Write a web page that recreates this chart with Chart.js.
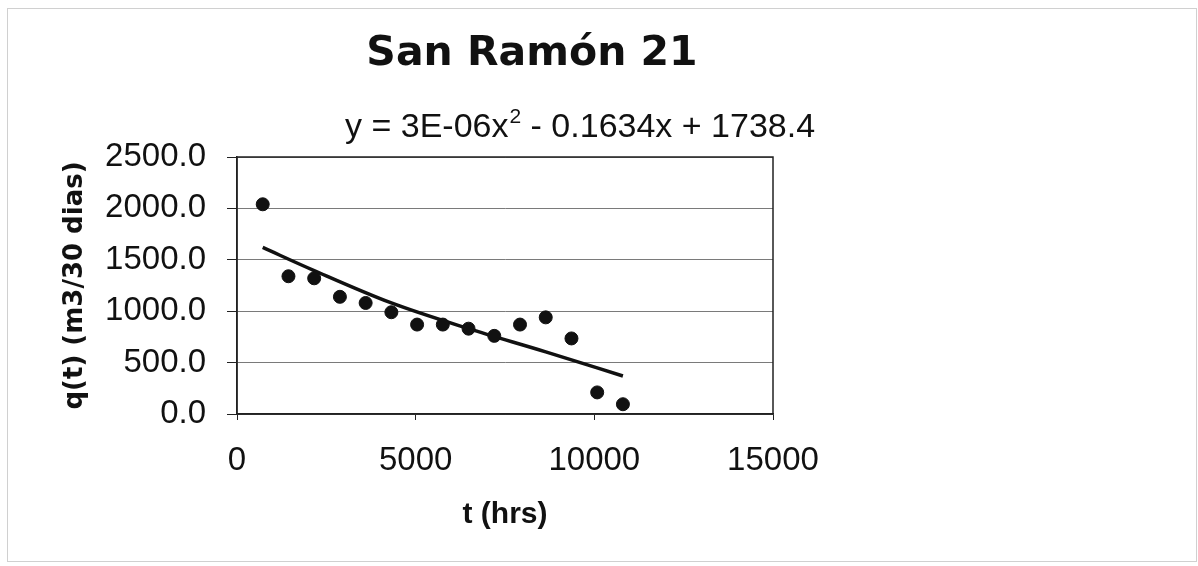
<!DOCTYPE html>
<html>
<head>
<meta charset="utf-8">
<script src="https://cdn.jsdelivr.net/npm/chart.js@4"></script>
<style>
    html, body { margin: 0; padding: 0; background: #fff; }
    #wrap { position: absolute; left: 0; top: 0; width: 1198px; height: 566px; }
</style>
</head>
<body>
<div id="wrap"><canvas id="chart"></canvas></div>
<script>
// monthly production, San Ramón 21
const timeHrs = [720, 1440, 2160, 2880, 3600, 4320, 5040, 5760, 6480, 7200, 7920, 8640, 9360, 10080, 10800];
const rateValues = [2040, 1340, 1320, 1140, 1080, 990, 870, 870, 830, 760, 870, 940, 735, 210, 95];

// polynomial trend line as it appears on the picture
const trendHrs = [720, 2160, 4320, 6480, 8640, 10800];
const trendValues = [1620, 1395, 1080, 830, 605, 370];

const yTicks = [0, 500, 1000, 1500, 2000, 2500];
const xTicks = [0, 5000, 10000, 15000];

const chartTitle = "San Ramón 21";
const equationParts = ["y = 3E-06x", "2", " - 0.1634x + 1738.4"];

const pointsData = timeHrs.map((t, i) => ({ x: t, y: rateValues[i] }));
const trendData = trendHrs.map((t, i) => ({ x: t, y: trendValues[i] }));

const frame = {
    id: "frame",
    afterDraw(chart) {
        const ctx = chart.ctx;
        const a = chart.chartArea;
        ctx.save();
        // plot box
        ctx.strokeStyle = "#222";
        ctx.lineWidth = 1.5;
        ctx.strokeRect(a.left, a.top, a.right - a.left, a.bottom - a.top);
        // outer chart border
        ctx.strokeStyle = "#d0d0d0";
        ctx.lineWidth = 1;
        ctx.strokeRect(7.5, 8.5, 1189, 553);

        // title
        ctx.fillStyle = "#111";
        ctx.font = "bold 41px 'DejaVu Sans'";
        ctx.textAlign = "center";
        ctx.textBaseline = "alphabetic";
        ctx.fillText(chartTitle, 532, 65);

        // trend equation with superscript
        ctx.textAlign = "left";
        ctx.font = "34px 'Liberation Sans'";
        let x = 345;
        const base = 137;
        ctx.fillText(equationParts[0], x, base);
        x += ctx.measureText(equationParts[0]).width;
        ctx.font = "21px 'Liberation Sans'";
        ctx.fillText(equationParts[1], x + 1, base - 14);
        x += ctx.measureText(equationParts[1]).width + 1;
        ctx.font = "34px 'Liberation Sans'";
        ctx.fillText(equationParts[2], x, base);
        ctx.restore();
    }
};

const chart = new Chart(document.getElementById("chart"), {
    type: "scatter",
    data: {
        datasets: [
            {
                label: "q(t)",
                data: pointsData,
                backgroundColor: "#111",
                borderColor: "#111",
                pointRadius: 6.5,
                pointHoverRadius: 6.5,
                order: 1
            },
            {
                label: "trend",
                type: "line",
                data: trendData,
                borderColor: "#111",
                borderWidth: 3.5,
                pointRadius: 0,
                fill: false,
                cubicInterpolationMode: "monotone",
                order: 2
            }
        ]
    },
    options: {
        responsive: true,
        maintainAspectRatio: false,
        animation: false,
        events: [],
        layout: { padding: { left: 0, top: 157, right: 425, bottom: 22 } },
        plugins: {
            legend: { display: false },
            title: { display: false },
            tooltip: { enabled: false }
        },
        scales: {
            x: {
                type: "linear",
                min: 0,
                max: 15000,
                afterBuildTicks: (scale) => { scale.ticks = xTicks.map(v => ({ value: v })); },
                afterFit: (scale) => { scale.height = 130; },
                border: { display: true, color: "#222", width: 1.5 },
                grid: { drawOnChartArea: false, drawTicks: true, tickLength: 6, tickColor: "#222" },
                ticks: {
                    padding: 21,
                    color: "#111",
                    font: { family: "'Liberation Sans'", size: 33 },
                    callback: (v) => v.toString()
                },
                title: {
                    display: true,
                    text: "t (hrs)",
                    color: "#111",
                    font: { family: "'Liberation Sans'", size: 30, weight: "bold" },
                    padding: { top: 0, bottom: 11 }
                }
            },
            y: {
                type: "linear",
                min: 0,
                max: 2500,
                afterBuildTicks: (scale) => { scale.ticks = yTicks.map(v => ({ value: v })); },
                afterFit: (scale) => { scale.width = 237; },
                border: { display: true, color: "#222", width: 1.5 },
                grid: { color: "#7a7a7a", lineWidth: 1, drawTicks: true, tickLength: 10, tickColor: "#222" },
                ticks: {
                    padding: 21,
                    color: "#111",
                    font: { family: "'Liberation Sans'", size: 33 },
                    callback: (v) => v.toFixed(1)
                },
                title: {
                    display: true,
                    text: "q(t) (m3/30 dias)",
                    color: "#111",
                    font: { family: "'DejaVu Sans'", size: 26, weight: "bold" },
                    padding: { top: 60, bottom: 0 }
                }
            }
        }
    },
    plugins: [frame]
});
</script>
</body>
</html>
